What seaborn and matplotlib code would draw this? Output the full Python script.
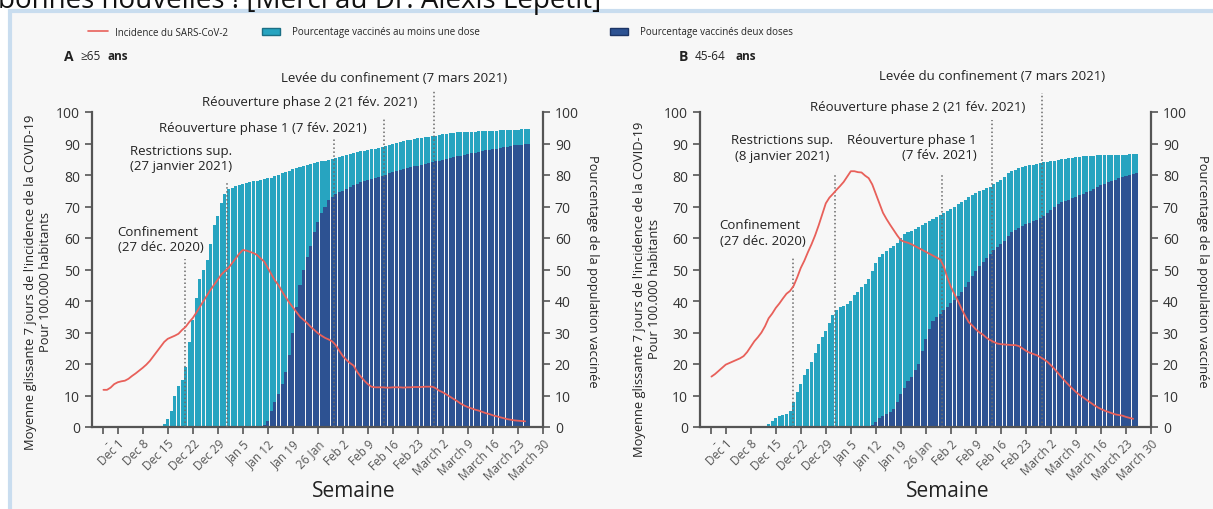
import matplotlib
matplotlib.use("Agg")
import matplotlib.pyplot as plt
import seaborn as sns
from matplotlib.patches import Rectangle, Patch
from matplotlib.lines import Line2D

sns.set_theme(style="ticks")
plt.rcParams["font.family"] = ["Open Sans", "DejaVu Sans"]

# ---------------------------------------------------------------------------
# Data. Day 0 = 1 December 2020; one bar per day.
# ---------------------------------------------------------------------------
tick_days = [-4, 0, 7, 14, 21, 28, 35, 42, 49, 56, 63, 70, 77, 84, 91, 98, 105, 112, 119]
tick_labels = ["-", "Dec 1", "Dec 8", "Dec 15", "Dec 22", "Dec 29", "Jan 5", "Jan 12",
               "Jan 19", "26 Jan", "Feb 2", "Feb 9", "Feb 16", "Feb 23", "March 2",
               "March 9", "March 16", "March 23", "March 30"]

# Panel A : >=65 ans
a_dose1_start = 13
a_dose1 = [1, 2.5, 5, 10, 13, 15, 19, 27, 34, 41, 47, 50, 53, 58, 64, 67, 71, 74, 75.5, 76,
           76.5, 76.8, 77.2, 77.6, 77.8, 78, 78.1, 78.3, 78.6, 78.9, 79.2, 79.6, 80, 80.5, 81,
           81.4, 81.8, 82.2, 82.5, 82.8, 83.1, 83.4, 83.7, 84, 84.3, 84.5, 84.8, 85.1, 85.4,
           85.7, 86, 86.3, 86.6, 86.9, 87.2, 87.5, 87.7, 88, 88.2, 88.4, 88.7, 89, 89.3, 89.6,
           89.9, 90.2, 90.5, 90.8, 91, 91.2, 91.4, 91.6, 91.8, 92, 92.1, 92.3, 92.5, 92.7,
           92.9, 93.1, 93.2, 93.4, 93.5, 93.6, 93.7, 93.7, 93.8, 93.8, 93.9, 93.9, 94, 94,
           94.1, 94.1, 94.2, 94.2, 94.3, 94.3, 94.4, 94.4, 94.5, 94.5, 94.6]
a_dose2_start = 41
a_dose2 = [0.5, 2, 5, 8, 10.5, 13.5, 17.5, 23, 30, 38, 45, 50, 54, 57.5, 62, 65, 68, 70, 72,
           73, 74, 74.5, 75, 75.6, 76.2, 76.7, 77.2, 77.7, 78, 78.4, 78.8, 79.1, 79.4, 79.8,
           80.1, 80.5, 80.9, 81.3, 81.6, 82, 82.3, 82.5, 82.8, 83, 83.3, 83.5, 83.8, 84, 84.3,
           84.5, 84.8, 85, 85.3, 85.6, 85.9, 86.1, 86.4, 86.6, 86.9, 87.1, 87.4, 87.6, 87.8,
           88, 88.2, 88.4, 88.6, 88.8, 89, 89.2, 89.4, 89.5, 89.6, 89.7, 89.8]
a_incid_start = -4
a_incid = [11.8, 11.8, 12.5, 13.6, 14.2, 14.5, 14.7, 15.3, 16.2, 17, 17.9, 18.8, 19.8, 21,
           22.5, 24, 25.5, 27, 28, 28.5, 29, 29.6, 30.8, 31.8, 33.3, 34.6, 36.3, 38.2, 40,
           41.8, 43.6, 45.2, 46.8, 48.4, 49.5, 50.5, 52, 53.5, 55, 56.2, 56, 55.6, 55.2, 54.6,
           53.5, 52.5, 50.5, 48.5, 46.5, 45, 43, 41.2, 39.5, 38, 36.5, 35, 34, 33, 31.8, 30.8,
           29.8, 29, 28.3, 27.8, 27.2, 26, 24.2, 22.5, 21.3, 20.3, 19.5, 17.5, 16, 14.7, 13.6,
           12.8, 12.6, 12.6, 12.6, 12.5, 12.5, 12.6, 12.6, 12.6, 12.5, 12.6, 12.6, 12.7, 12.7,
           12.7, 12.8, 12.8, 12.8, 12.3, 11.5, 11, 10.3, 9.6, 8.9, 8.2, 7.4, 6.8, 6.3, 5.9,
           5.5, 5.2, 4.8, 4.4, 4.1, 3.7, 3.4, 3.1, 2.8, 2.5, 2.3, 2.1, 2, 1.9, 1.8]

# Panel B : 45-64 ans
b_dose1_start = 11
b_dose1 = [0.3, 1, 1.8, 2.7, 3.4, 3.8, 4.2, 5, 8, 11, 13.5, 16.5, 18.5, 20.5, 23.5, 26.5,
           28.5, 30.5, 33, 35.5, 37, 38, 38.5, 39, 40, 41.8, 43, 44.5, 45.5, 47, 49.5, 52, 54,
           55, 55.8, 56.7, 57.5, 58.5, 60, 61.2, 61.8, 62.3, 62.8, 63.4, 64, 64.7, 65.4, 66.1,
           66.7, 67.3, 67.9, 68.5, 69.2, 70, 70.8, 71.5, 72.2, 72.9, 73.6, 74.2, 74.8, 75.3,
           75.8, 76.3, 77, 77.8, 78.5, 79.5, 80.5, 81.2, 81.7, 82.1, 82.5, 82.8, 83.1, 83.3,
           83.5, 83.7, 84, 84.2, 84.4, 84.6, 84.8, 85, 85.2, 85.4, 85.5, 85.7, 85.8, 85.9, 86,
           86.1, 86.1, 86.2, 86.2, 86.3, 86.3, 86.4, 86.4, 86.5, 86.5, 86.5, 86.6, 86.6, 86.6]
b_dose2_start = 41
b_dose2 = [0.5, 1.5, 3, 3.5, 4, 4.8, 5.8, 8, 10.5, 12.5, 14.5, 16, 18, 20, 24, 28, 31, 33.5,
           35, 36, 37, 38.2, 39.3, 40.3, 41.5, 43, 44.5, 46, 47.8, 49.5, 51, 52.3, 53.5, 55,
           56.2, 57, 58, 59, 60.5, 61.8, 62.6, 63.2, 63.8, 64.3, 64.8, 65.3, 65.8, 66.3, 67, 68,
           69, 70, 70.8, 71.3, 71.8, 72.2, 72.6, 73.1, 73.6, 74.1, 74.5, 75, 75.5, 76.1, 76.7,
           77.2, 77.7, 78.1, 78.5, 78.9, 79.3, 79.7, 80, 80.3, 80.5]
b_incid_start = -4
b_incid = [16, 16.8, 17.8, 18.8, 19.8, 20.3, 20.8, 21.3, 21.8, 22.5, 23.8, 25.5, 27.2, 28.5,
           30, 32, 34.5, 36, 37.8, 39.2, 40.8, 42.3, 43.2, 44.8, 47.5, 50.5, 52.8, 55.5, 58,
           60.8, 64, 67.5, 71, 72.8, 74, 75.3, 76.5, 77.8, 79.5, 81.2, 81.2, 80.9, 80.8, 79.8,
           79, 77, 74, 71, 68, 66, 64.2, 62.5, 60.8, 59.3, 58.8, 58.5, 58, 57.4, 56.8, 56.2,
           55.6, 55, 54.4, 53.8, 53.2, 51, 47.5, 44.5, 42.2, 40, 37.5, 35.3, 33.3, 32.2, 31, 30,
           29.3, 28.3, 27.6, 27, 26.5, 26.3, 26.2, 26.1, 26, 26, 25.7, 25, 24.2, 23.6, 23.2,
           22.8, 22.2, 21.5, 20.7, 19.6, 18.4, 17.1, 15.8, 14.5, 13.3, 12.2, 11.1, 10.2, 9.4,
           8.6, 7.8, 7, 6.3, 5.7, 5.2, 4.8, 4.4, 4, 3.8, 3.6, 3.2, 2.9, 2.6]

# Policy events: day of the dotted line and its top
a_events_day = [18.7, 30.7, 60.6, 74.5, 88.6]
a_events_top = [53.3, 77.8, 91.4, 97.8, 106.7]
b_events_day = [18.7, 30.7, 60.6, 74.5, 88.6]
b_events_top = [53.5, 80.5, 80.5, 97.5, 106.0]

C_ONE = "#27a4c0"
C_TWO = "#2d5292"
C_RED = "#e8605a"
C_AX = "#555555"
C_TXT = "#222222"

W, H = 1213, 510
fig = plt.figure(figsize=(W / 100, H / 100), dpi=100)
fig.patch.set_facecolor("white")

# panel frame
fig.patches.append(Rectangle((10 / W, -0.02), 1.0, 1 - 12 / H + 0.02,
                             transform=fig.transFigure, facecolor="#f7f7f7",
                             edgecolor="#c9ddef", linewidth=3, zorder=-5))

fig.text(-2 / W, 1 - 8 / H, "bonnes nouvelles ! [Merci au Dr. Alexis Lepetit]",
         fontsize=20, color="#111111", va="baseline", ha="left")

XMIN, XMAX = -7.2, 116.3


def days_from(start, values):
    return list(range(start, start + len(values)))


def draw_panel(left_px, dose1, d1s, dose2, d2s, incid, incs, ev_day, ev_top):
    ax = fig.add_axes([left_px / W, (H - 428) / H, 451 / W, 315 / H])
    ax.set_facecolor("none")
    sns.barplot(x=days_from(d1s, dose1), y=dose1, native_scale=True, color=C_ONE,
                width=0.85, errorbar=None, saturation=1, linewidth=0, ax=ax, zorder=1)
    sns.barplot(x=days_from(d2s, dose2), y=dose2, native_scale=True, color=C_TWO,
                width=0.85, errorbar=None, saturation=1, linewidth=0, ax=ax, zorder=2)
    sns.lineplot(x=days_from(incs, incid), y=incid, color=C_RED, linewidth=1.3,
                 ax=ax, zorder=4)
    ax.vlines(ev_day, 0, ev_top, colors="#6a6a6a", linestyles=(0, (1, 1.6)),
              linewidth=1.1, clip_on=False, zorder=3)

    ax.set_xlim(XMIN, XMAX)
    ax.set_ylim(0, 100)
    ax.set_xlabel("")
    ax.set_ylabel("")
    ax.set_yticks(range(0, 101, 10))
    ax.set_xticks(tick_days)
    ax.set_xticklabels(tick_labels, rotation=45, ha="right", rotation_mode="anchor",
                       fontsize=8.5, color="#333333")
    ax.tick_params(axis="y", labelsize=10, colors=C_AX, labelcolor="#333333",
                   length=5, width=1.2, direction="out")
    ax.tick_params(axis="x", colors=C_AX, length=5, width=1.2, direction="out", pad=2)
    for s in ("top", "right"):
        ax.spines[s].set_visible(False)
    for s in ("left", "bottom"):
        ax.spines[s].set_color(C_AX)
        ax.spines[s].set_linewidth(1.6)

    ax2 = ax.twinx()
    ax2.set_ylim(0, 100)
    ax2.set_yticks(range(0, 101, 10))
    ax2.tick_params(axis="y", labelsize=10, colors=C_AX, labelcolor="#333333",
                    length=5, width=1.2, direction="out")
    for s in ("top", "left", "bottom"):
        ax2.spines[s].set_visible(False)
    ax2.spines["right"].set_color(C_AX)
    ax2.spines["right"].set_linewidth(1.6)
    return ax


axA = draw_panel(92, a_dose1, a_dose1_start, a_dose2, a_dose2_start,
                 a_incid, a_incid_start, a_events_day, a_events_top)
axB = draw_panel(700, b_dose1, b_dose1_start, b_dose2, b_dose2_start,
                 b_incid, b_incid_start, b_events_day, b_events_top)

ann = dict(fontsize=9.5, color=C_TXT, clip_on=False, va="center")
# Panel A annotations
axA.text(77.3, 111.1, "Levée du confinement (7 mars 2021)", ha="center", **ann)
axA.text(53.8, 103.2, "Réouverture phase 2 (21 fév. 2021)", ha="center", **ann)
axA.text(40.7, 95.2, "Réouverture phase 1 (7 fév. 2021)", ha="center", **ann)
axA.text(17.8, 85.4, "Restrictions sup.\n(27 janvier 2021)", ha="center",
         multialignment="center", linespacing=1.25, **ann)
axA.text(0.0, 59.7, "Confinement\n(27 déc. 2020)", ha="left", linespacing=1.25, **ann)
# Panel B annotations
axB.text(74.4, 111.7, "Levée du confinement (7 mars 2021)", ha="center", **ann)
axB.text(53.8, 101.8, "Réouverture phase 2 (21 fév. 2021)", ha="center", **ann)
axB.text(15.9, 88.8, "Restrictions sup.\n(8 janvier 2021)", ha="center",
         multialignment="center", linespacing=1.25, **ann)
axB.text(70.3, 88.9, "Réouverture phase 1\n(7 fév. 2021)", ha="right",
         multialignment="right", linespacing=1.25, **ann)
axB.text(-1.7, 61.8, "Confinement\n(27 déc. 2020)", ha="left", linespacing=1.25, **ann)

# Axis titles
ylab = "Moyenne glissante 7 jours de l'incidence de la COVID-19\nPour 100.000 habitants"
rlab = "Pourcentage de la population vaccinée"
for xl, yc, xr, semx in ((38, 282, 592, 354), (647, 289, 1203, 948)):
    fig.text(xl / W, 1 - yc / H, ylab, rotation=90, ha="center", va="center",
             fontsize=9.3, color=C_TXT, linespacing=1.15)
    fig.text(xr / W, 1 - 271 / H, rlab, rotation=270, ha="center", va="center",
             fontsize=9.3, color=C_TXT)
    fig.text(semx / W, 1 - 492 / H, "Semaine", ha="center", va="center",
             fontsize=15, color=C_TXT)

# Panel tags
def tag(x, letter, age):
    fig.text(x / W, 1 - 57 / H, letter, fontsize=10, fontweight="bold", color=C_TXT,
             va="center", ha="left")
    fig.text((x + 16) / W, 1 - 57 / H, age, fontsize=8.5, color=C_TXT,
             va="center", ha="left")
    fig.text((x + 44 + 6 * (len(age) - 3)) / W, 1 - 57 / H, "ans", fontsize=8.5,
             fontweight="bold", color=C_TXT, va="center", ha="left")

tag(64, "A", "≥65")
tag(679, "B", "45-64")

# Legend entries
leg_kw = dict(frameon=False, fontsize=7, borderpad=0, borderaxespad=0, loc="center left")
fig.legend([Line2D([], [], color=C_RED, lw=1.2)], ["Incidence du SARS-CoV-2"],
           bbox_to_anchor=(88 / W, 1 - 33 / H), handlelength=2.1, handletextpad=0.7,
           **leg_kw)
fig.legend([Patch(facecolor=C_ONE, edgecolor="#1b6f85")],
           ["Pourcentage vaccinés au moins une dose"],
           bbox_to_anchor=(262 / W, 1 - 33 / H), handlelength=1.85, handletextpad=1.2,
           **leg_kw)
fig.legend([Patch(facecolor=C_TWO, edgecolor="#1d3566")],
           ["Pourcentage vaccinés deux doses"],
           bbox_to_anchor=(610 / W, 1 - 33 / H), handlelength=1.85, handletextpad=1.2,
           **leg_kw)

fig.savefig("out.png", dpi=100)
